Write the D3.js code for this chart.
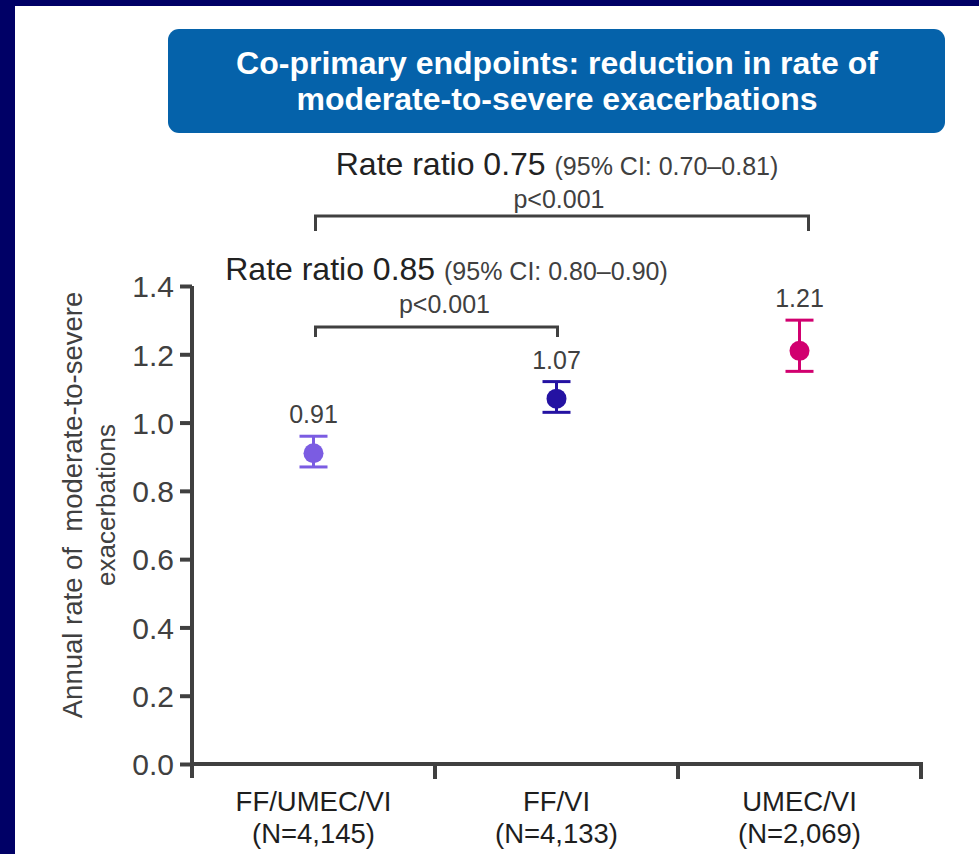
<!DOCTYPE html>
<html>
<head>
<meta charset="utf-8">
<script src="https://cdn.jsdelivr.net/npm/d3@7"></script>
<style>
  html, body { margin: 0; padding: 0; background: #000066; }
  svg { display: block; font-family: "Liberation Sans", Arial, sans-serif; }
</style>
</head>
<body>
<script>
// Treatment arms and their annual exacerbation rates with 95% CIs
const categories = ["FF/UMEC/VI", "FF/VI", "UMEC/VI"];
const sampleSizes = ["(N=4,145)", "(N=4,133)", "(N=2,069)"];
const rates = [0.91, 1.07, 1.21];
const ciLower = [0.87, 1.03, 1.15];
const ciUpper = [0.96, 1.12, 1.30];
const pointColors = ["#7b5ce2", "#2412a2", "#d1006f"];
const yTicks = [0.0, 0.2, 0.4, 0.6, 0.8, 1.0, 1.2, 1.4];

// Pairwise comparisons shown as brackets above the points
const comparisons = [
  { from: 0, to: 2, ratio: "0.75", ci: "(95% CI: 0.70\u20130.81)", p: "p<0.001", level: 1.605 },
  { from: 0, to: 1, ratio: "0.85", ci: "(95% CI: 0.80\u20130.90)", p: "p<0.001", level: 1.28 }
];

const W = 979, H = 854;
const svg = d3.select("body").append("svg").attr("width", W).attr("height", H);

// Slide backdrop
svg.append("rect").attr("width", W).attr("height", H).attr("fill", "#000066");
svg.append("rect").attr("x", 15).attr("y", 6).attr("width", W - 15).attr("height", H - 6).attr("fill", "#ffffff");

// Title banner
svg.append("rect").attr("x", 168).attr("y", 29).attr("width", 777).attr("height", 104)
  .attr("rx", 11).attr("fill", "#0562aa");
const titleLines = ["Co-primary endpoints: reduction in rate of", "moderate-to-severe exacerbations"];
svg.append("g").selectAll("text").data(titleLines).join("text")
  .attr("x", 557).attr("y", (d, i) => 74 + i * 36)
  .attr("text-anchor", "middle").attr("fill", "#ffffff")
  .attr("font-size", 32).attr("font-weight", "bold")
  .text(d => d);

const axisColor = "#404040";
const plotLeft = 192, plotRight = 921, plotBottom = 764, plotTop = 286;

const x = d3.scaleBand().domain(categories).range([plotLeft, plotRight]);
const y = d3.scaleLinear().domain([0, 1.4]).range([plotBottom, plotTop]);

// Y axis
const yAxis = svg.append("g").attr("transform", `translate(${plotLeft},0)`)
  .call(d3.axisLeft(y).tickValues(yTicks).tickFormat(d3.format(".1f")).tickSize(12).tickPadding(6));
yAxis.select(".domain").attr("stroke", axisColor).attr("stroke-width", 4)
  .attr("d", `M0,${plotTop}V${plotBottom + 14}`);
yAxis.selectAll(".tick line").attr("stroke", axisColor).attr("stroke-width", 4);
yAxis.selectAll(".tick text").attr("fill", axisColor).attr("font-size", 30)
  .attr("font-family", "'Liberation Sans', Arial, sans-serif").attr("dy", "0.36em");

// X axis with ticks at band boundaries
const xAxisG = svg.append("g").attr("transform", `translate(0,${plotBottom})`);
xAxisG.append("line").attr("x1", plotLeft).attr("x2", plotRight + 2)
  .attr("stroke", axisColor).attr("stroke-width", 4);
const bounds = categories.map(c => x(c)).concat([plotRight]);
xAxisG.selectAll("line.tk").data(bounds.slice(1)).join("line").attr("class", "tk")
  .attr("x1", d => d).attr("x2", d => d).attr("y1", 0).attr("y2", 15)
  .attr("stroke", axisColor).attr("stroke-width", 4);

// Category labels: name over sample size
const catG = svg.append("g");
categories.forEach((c, i) => {
  const cx = x(c) + x.bandwidth() / 2;
  [c, sampleSizes[i]].forEach((t, j) => {
    catG.append("text")
      .attr("x", cx).attr("y", 811 + j * 32)
      .attr("text-anchor", "middle").attr("fill", "#1e1e1e")
      .attr("font-size", 27.5)
      .text(t);
  });
});

// Y-axis title
const yt = svg.append("text").attr("transform", `translate(82,505) rotate(-90)`)
  .attr("text-anchor", "middle").attr("fill", axisColor)
  .attr("xml:space", "preserve").style("white-space", "pre");
yt.append("tspan").attr("x", 0).attr("dy", 0).attr("font-size", 27.5).text("Annual rate of  moderate-to-severe");
yt.append("tspan").attr("x", 0).attr("dy", 33).attr("font-size", 26).text("exacerbations");

// Error bars, points and value labels
const cxOf = i => x(categories[i]) + x.bandwidth() / 2;
const pts = svg.append("g").selectAll("g").data(rates).join("g");
pts.append("line")
  .attr("x1", (d, i) => cxOf(i)).attr("x2", (d, i) => cxOf(i))
  .attr("y1", (d, i) => y(ciLower[i])).attr("y2", (d, i) => y(ciUpper[i]))
  .attr("stroke", (d, i) => pointColors[i]).attr("stroke-width", 3);
[ciLower, ciUpper].forEach(arr => {
  pts.append("line")
    .attr("x1", (d, i) => cxOf(i) - 14).attr("x2", (d, i) => cxOf(i) + 14)
    .attr("y1", (d, i) => y(arr[i])).attr("y2", (d, i) => y(arr[i]))
    .attr("stroke", (d, i) => pointColors[i]).attr("stroke-width", 3);
});
pts.append("circle")
  .attr("cx", (d, i) => cxOf(i)).attr("cy", d => y(d)).attr("r", 10)
  .attr("fill", (d, i) => pointColors[i]);
pts.append("text")
  .attr("x", (d, i) => cxOf(i)).attr("y", (d, i) => y(ciUpper[i]) - 13)
  .attr("text-anchor", "middle").attr("fill", axisColor).attr("font-size", 25)
  .text(d => d.toFixed(2));

// Comparison brackets
const brG = svg.append("g");
comparisons.forEach((c, k) => {
  const wide = c.to === 2;
  const x1 = cxOf(c.from) + 2, x2 = cxOf(c.to) + (wide ? 9 : 1);
  const by = y(c.level);
  const tip = wide ? 15 : 10;
  brG.append("path")
    .attr("d", `M${x1},${by + tip}V${by}H${x2}V${by + tip}`)
    .attr("fill", "none").attr("stroke", axisColor).attr("stroke-width", 3);
  const mid = (x1 + x2) / 2;
  const label = brG.append("text")
    .attr("x", mid + (wide ? -5 : 10)).attr("y", by - (wide ? 41 : 47))
    .attr("text-anchor", "middle").attr("fill", "#222");
  label.append("tspan").attr("font-size", 32).text("Rate ratio " + c.ratio + " ");
  label.append("tspan").attr("font-size", 25).attr("fill", axisColor).text(c.ci);
  brG.append("text").attr("x", mid + (wide ? -3 : 8)).attr("y", by - (wide ? 8 : 14))
    .attr("text-anchor", "middle").attr("fill", axisColor).attr("font-size", 25)
    .text(c.p);
});
</script>
</body>
</html>
